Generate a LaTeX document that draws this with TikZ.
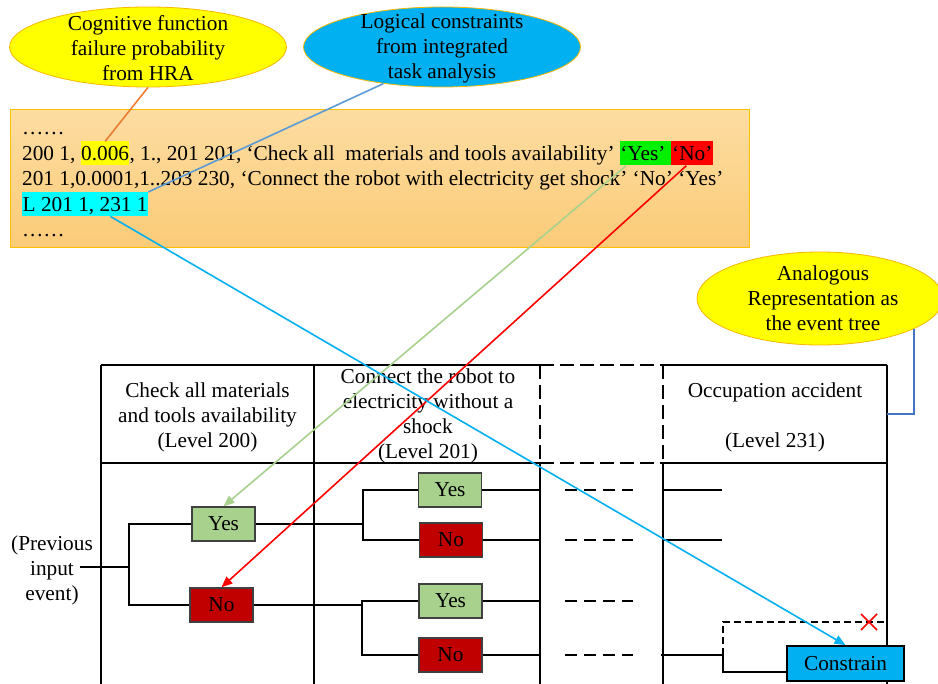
\documentclass[tikz,border=0pt]{standalone}
\usepackage{fontspec}
\setmainfont{Liberation Serif}
\usetikzlibrary{shapes.geometric,arrows.meta,calc}
\definecolor{ygold}{HTML}{F5B800}
\definecolor{bubyellow}{HTML}{FFFF00}
\definecolor{bubblue}{HTML}{00B0F0}
\definecolor{hlyellow}{HTML}{FFFF00}
\definecolor{hlgreen}{HTML}{00F000}
\definecolor{hlred}{HTML}{FF0000}
\definecolor{hlcyan}{HTML}{00FFFF}
\definecolor{boxtop}{HTML}{FDDDA2}
\definecolor{boxbot}{HTML}{FBCB78}
\definecolor{boxedge}{HTML}{FFC000}
\definecolor{yesfill}{HTML}{A9D18E}
\definecolor{nofill}{HTML}{C00000}
\definecolor{consfill}{HTML}{00B0F0}
\definecolor{corange}{HTML}{ED7D31}
\definecolor{cblue}{HTML}{5B9BD5}
\definecolor{cgreen}{HTML}{A9D18E}
\definecolor{ccyan}{HTML}{00B0F0}
\definecolor{cdblue}{HTML}{4472C4}
\definecolor{boxline}{HTML}{404040}
\begin{document}
\begin{tikzpicture}[x=1pt,y=-1pt,
  every node/.style={font=\fontsize{21.3}{25}\selectfont},
  bubble/.style={ellipse, inner sep=0, draw=ygold, line width=0.8pt},
  btext/.style={align=center, inner sep=0},
  plain/.style={anchor=base west, inner sep=0},
  hl/.style={anchor=base west, inner ysep=0, inner xsep=0, text height=19pt, text depth=5pt},
  tline/.style={line width=1.6pt, black},
  tdash/.style={line width=1.6pt, black, dash pattern=on 14pt off 6pt},
  rdash/.style={line width=1.6pt, black, dash pattern=on 12pt off 7pt},
  sdash/.style={line width=1.4pt, black, dash pattern=on 7pt off 4pt},
  yesbox/.style={draw=boxline, line width=1.4pt, fill=yesfill, minimum width=63pt, minimum height=34pt, inner sep=0},
  nobox/.style={draw=boxline, line width=1.4pt, fill=nofill, minimum width=63pt, minimum height=34pt, inner sep=0},
  conn/.style={line width=1.6pt},
  tip/.style={-{Triangle[length=11pt,width=9pt]}}
]
\useasboundingbox (0,0) rectangle (938,684);
\fill[white] (0,0) rectangle (938,684);

% bubbles
\node[bubble, fill=bubyellow, minimum width=277pt, minimum height=80pt] (e1) at (148,47) {};
\node[btext] (t1) at (148,48) {Cognitive function\\failure probability\\from HRA};
\node[bubble, fill=bubblue, minimum width=277pt, minimum height=80pt] (e2) at (442,47) {};
\node[btext] (t2) at (442,48) {Logical constraints\\from integrated\\task analysis};
\node[bubble, fill=bubyellow, minimum width=246pt, minimum height=93pt] (e3) at (820,298.5) {};
\node[btext] (t3) at (823,298) {Analogous\\Representation as\\the event tree};

% code box
\node[draw=boxedge, line width=1pt, top color=boxtop, bottom color=boxbot, minimum width=739pt, minimum height=138pt, anchor=north west, inner sep=0] (code) at (10,109) {};
\node[plain] (d1) at (22,135) {……};
\node[plain] (l1a) at (22,160.5) {200 1,\ \mbox{}};
\node[hl, fill=hlyellow] (v006) at (l1a.base east) {0.006};
\node[plain] (l1b) at (v006.base east) {, 1., 201 201, ‘Check all\ \ materials and tools availability’\ \mbox{}};
\node[hl, fill=hlgreen] (hyes) at (l1b.base east) {‘Yes’\ \mbox{}};
\node[hl, fill=hlred, inner xsep=1pt] (hno) at (hyes.base east) {‘No’};
\node[plain] (l2) at (22,185.8) {201 1,0.0001,1..203 230, ‘Connect the robot with electricity get shock’ ‘No’ ‘Yes’};
\node[hl, fill=hlcyan, inner xsep=0.5pt] (lc) at (22,211.2) {L 201 1, 231 1};
\node[plain] (d2) at (22,236.5) {……};

% table frame
\coordinate (c414) at (887,414);
\draw[tline] (101,365) -- (540,365);
\draw[tdash] (540,365) -- (663,365);
\draw[tline] (663,365) -- (887,365);
\draw[tline] (101,463) -- (540,463);
\draw[tdash] (540,463) -- (663,463);
\draw[tline] (663,463) -- (887,463);
\draw[tline] (101,365) -- (101,690);
\draw[tline] (314,365) -- (314,690);
\draw[tdash] (540,365) -- (540,463);
\draw[tline] (540,463) -- (540,690);
\draw[tdash] (663,365) -- (663,463);
\draw[tline] (663,463) -- (663,690);
\draw[tline] (887,365) -- (887,690);

% headers
\node[btext] (h1) at (207.5,417) {Check all materials\\and tools availability\\(Level 200)};
\node[btext] (h2) at (428,416) {Connect the robot to\\electricity without a\\shock\\(Level 201)};
\node[btext] (h4) at (775,417) {Occupation accident\\[25pt](Level 231)};

% tree
\node[btext] (prev) at (52,570) {(Previous\\input\\event)};
\coordinate (pin) at (80,567);
\coordinate (j0) at (129,567);
\node[yesbox] (yes1) at (223.5,524) {Yes};
\node[nobox] (no1) at (221.5,605) {No};
\coordinate (j1) at (363,524);
\coordinate (j2) at (362,605);
\node[yesbox] (yes2) at (450,490) {Yes};
\node[nobox] (no2) at (451,540) {No};
\node[yesbox] (yes3) at (450.5,601) {Yes};
\node[nobox] (no4) at (450.5,655) {No};
\coordinate (colA) at (540,0);
\draw[tline] (pin) -- (j0);
\draw[tline] (yes1.west) -| (j0) |- (no1.west);
\draw[tline] (yes1.east) -- (j1);
\draw[tline] (yes2.west) -| (j1) |- (no2.west);
\draw[tline] (no1.east) -- (j2);
\draw[tline] (yes3.west) -| (j2) |- (no4.west);
\foreach \b in {yes2,no2,yes3,no4}{
  \draw[tline] (\b.east) -- (\b.east -| colA);
  \draw[rdash] ($(\b.east -| colA)+(25,0)$) -- ++(68,0);
}
\draw[tline] (663,490) -- (722,490);
\draw[tline] (663,540) -- (722,540);
\coordinate (j3) at (723,655);
\draw[tline] (661,655) -- (j3);
\node[draw=black, line width=1.8pt, fill=consfill, minimum width=117pt, minimum height=35pt, inner sep=0] (cons) at (845.5,663.5) {Constrain};
\draw[tline] (j3) |- (cons.west |- 0,672);
\draw[sdash] (j3) -- (723,622) -- (887,622);
\draw[red, line width=1.6pt] (861,614) -- (877,630) (861,630) -- (877,614);

% connectors
\draw[corange, conn] (e1.south) -- (v006.north);
\draw[cblue, conn] (e2.212) -- (lc.north east);
\draw[cdblue, conn] (e3.-18.3) |- (c414);
\draw[cgreen, conn, tip] ($(hyes.south west)+(6,0)$) -- (yes1.north);
\draw[red, conn, tip] ($(hno.south west)!0.36!(hno.south east)$) -- (no1.north);
\draw[ccyan, conn, tip] ($(lc.south west)!0.7!(lc.south east)$) -- (cons.north);
\end{tikzpicture}
\end{document}
